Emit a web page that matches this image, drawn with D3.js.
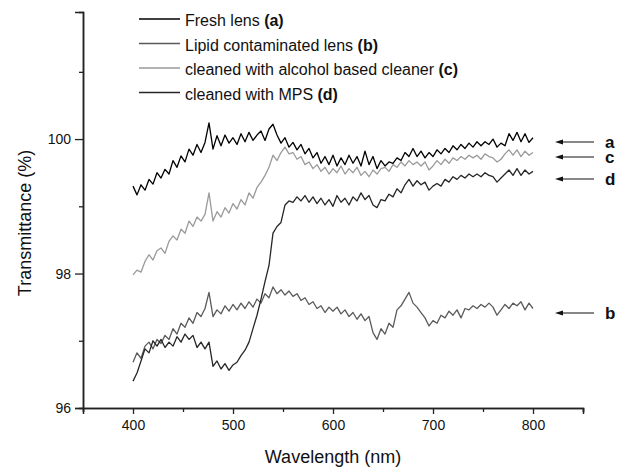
<!DOCTYPE html>
<html>
<head>
<meta charset="utf-8">
<script src="https://cdn.jsdelivr.net/npm/d3@7"></script>
<style>
  body { margin: 0; background: #fff; }
  text { font-family: "Liberation Sans", Arial, sans-serif; }
</style>
</head>
<body>
<svg id="chart" width="624" height="470"></svg>
<script>
// wavelength grid (nm), 4 nm steps from 400 to 800
var wavelengths = d3.range(400, 801, 4);

// transmittance (%)
var fresh = [
  99.30, 99.17, 99.32, 99.24, 99.40, 99.33, 99.50, 99.42, 99.55, 99.48,
  99.68, 99.58, 99.75, 99.66, 99.85, 99.76, 99.92, 99.80, 99.95, 100.24,
  99.85, 100.05, 99.90, 100.06, 99.94, 100.02, 99.92, 100.08, 99.96, 100.10,
  99.98, 100.06, 100.12, 99.98, 100.15, 100.22, 100.06, 99.94, 100.02, 99.88,
  99.95, 99.84, 99.92, 99.78, 99.86, 99.72, 99.80, 99.64, 99.74, 99.62,
  99.76, 99.60, 99.72, 99.62, 99.76, 99.64, 99.74, 99.60, 99.82, 99.62,
  99.74, 99.56, 99.68, 99.60, 99.66, 99.64, 99.72, 99.68, 99.80, 99.74,
  99.86, 99.74, 99.82, 99.72, 99.80, 99.74, 99.84, 99.78, 99.86, 99.80,
  99.90, 99.84, 99.92, 99.86, 99.94, 99.88, 99.96, 99.90, 99.96, 99.92,
  100.00, 99.88, 99.94, 99.90, 100.08, 99.98, 100.10, 99.96, 100.08, 99.95,
  100.02
];
var lipid = [
  96.68, 96.82, 96.74, 96.92, 96.98, 96.88, 97.02, 96.96, 97.08, 97.02,
  97.18, 97.10, 97.26, 97.20, 97.34, 97.26, 97.42, 97.36, 97.48, 97.72,
  97.36, 97.46, 97.40, 97.52, 97.44, 97.54, 97.46, 97.56, 97.48, 97.58,
  97.50, 97.62, 97.56, 97.70, 97.64, 97.80, 97.70, 97.76, 97.68, 97.74,
  97.66, 97.70, 97.60, 97.64, 97.54, 97.58, 97.48, 97.52, 97.42, 97.50,
  97.44, 97.50, 97.40, 97.46, 97.36, 97.42, 97.32, 97.40, 97.30, 97.36,
  97.12, 97.02, 97.18, 97.10, 97.26, 97.20, 97.46, 97.52, 97.62, 97.72,
  97.56, 97.50, 97.42, 97.34, 97.22, 97.30, 97.26, 97.38, 97.34, 97.44,
  97.38, 97.46, 97.34, 97.48, 97.46, 97.52, 97.48, 97.54, 97.50, 97.56,
  97.50, 97.38, 97.46, 97.54, 97.48, 97.56, 97.52, 97.58, 97.46, 97.56,
  97.48
];
var alcohol = [
  97.98, 98.05, 98.02, 98.18, 98.28, 98.20, 98.34, 98.38, 98.30, 98.48,
  98.56, 98.50, 98.66, 98.60, 98.78, 98.70, 98.84, 98.78, 98.88, 99.20,
  98.78, 98.92, 98.84, 98.98, 98.90, 99.04, 98.96, 99.10, 99.02, 99.20,
  99.12, 99.28, 99.36, 99.46, 99.58, 99.76, 99.68, 99.80, 99.88, 99.78,
  99.80, 99.70, 99.74, 99.62, 99.66, 99.56, 99.62, 99.52, 99.58, 99.48,
  99.56, 99.50, 99.60, 99.48, 99.56, 99.50, 99.58, 99.46, 99.52, 99.44,
  99.54, 99.48, 99.56, 99.58, 99.52, 99.62, 99.58, 99.66, 99.60, 99.68,
  99.62, 99.66, 99.60, 99.66, 99.54, 99.60, 99.68, 99.62, 99.70, 99.64,
  99.72, 99.68, 99.74, 99.70, 99.76, 99.72, 99.76, 99.70, 99.78, 99.74,
  99.72, 99.66, 99.70, 99.78, 99.84, 99.76, 99.84, 99.74, 99.82, 99.76,
  99.80
];
var mps = [
  96.40, 96.52, 96.70, 96.88, 96.82, 97.00, 96.92, 97.02, 96.90, 96.98,
  96.92, 97.06, 96.98, 97.10, 97.02, 97.08, 96.90, 96.98, 96.88, 96.98,
  96.62, 96.70, 96.58, 96.66, 96.56, 96.64, 96.68, 96.78, 96.86, 96.98,
  97.18, 97.38, 97.62, 97.88, 98.12, 98.60, 98.70, 98.76, 99.02, 99.08,
  99.06, 99.14, 99.08, 99.16, 99.06, 99.14, 99.04, 99.12, 99.02, 99.10,
  99.00, 99.16, 99.06, 99.12, 99.02, 99.14, 99.08, 99.20, 99.10, 99.16,
  99.02, 98.98, 99.10, 99.08, 99.18, 99.14, 99.26, 99.20, 99.32, 99.40,
  99.30, 99.38, 99.32, 99.36, 99.24, 99.30, 99.34, 99.30, 99.40, 99.36,
  99.44, 99.40, 99.46, 99.42, 99.48, 99.44, 99.48, 99.44, 99.50, 99.46,
  99.44, 99.36, 99.42, 99.48, 99.54, 99.46, 99.56, 99.46, 99.54, 99.48,
  99.52
];

var seriesNames = ["Fresh lens ", "Lipid contaminated lens ", "cleaned with alcohol based cleaner ", "cleaned with MPS "];
var seriesTags = ["a", "b", "c", "d"];
var seriesColors = ["#000000", "#5a5a5a", "#9a9a9a", "#262626"];
var seriesValues = [fresh, lipid, alcohol, mps];

var xMajor = [400, 500, 600, 700, 800];
var xMinor = [350, 450, 550, 650, 750, 850];
var yMajor = [96, 98, 100];
var yMinor = [97, 99, 101];

var svg = d3.select("#chart");
var pad_left = 83, pad_right = 583, pad_top = 12, pad_bottom = 408;

var xScale = d3.scaleLinear().domain([350, 850]).range([pad_left, pad_right]);
var yScale = d3.scaleLinear().domain([96, 101.89]).range([pad_bottom, pad_top]);

// curves, drawn so that a sits on top
var line = d3.line()
    .x(function(d) { return xScale(d.x); })
    .y(function(d) { return yScale(d.y); });

[1, 3, 2, 0].forEach(function(i) {
    var pts = wavelengths.map(function(w, k) { return {x: w, y: seriesValues[i][k]}; });
    svg.append("path")
        .datum(pts)
        .attr("fill", "none")
        .attr("stroke", seriesColors[i])
        .attr("stroke-width", 1.3)
        .attr("stroke-linejoin", "round")
        .attr("d", line);
});

//X axis
var xAxis = d3.axisBottom(xScale).tickValues(xMajor).tickSize(6).tickPadding(6).tickFormat(d3.format("d"));
var gx = svg.append("g")
    .attr("class", "x axis")
    .attr("transform", "translate(0," + pad_bottom + ")")
    .call(xAxis);
gx.append("g").call(d3.axisBottom(xScale).tickValues(xMinor).tickSize(4).tickFormat(""));

//Y axis
var yAxis = d3.axisLeft(yScale).tickValues(yMajor).tickSize(8).tickPadding(4).tickFormat(d3.format("d"));
var gy = svg.append("g")
    .attr("class", "y axis")
    .attr("transform", "translate(" + pad_left + ",0)")
    .call(yAxis);
gy.append("g").call(d3.axisLeft(yScale).tickValues(yMinor).tickSize(4).tickFormat(""));

svg.selectAll(".axis g g path.domain").remove();
svg.selectAll(".axis path.domain").attr("stroke-width", 1.5).attr("stroke", "#222");
svg.selectAll(".axis line").attr("stroke-width", 1.3).attr("stroke", "#222");
svg.selectAll(".axis text").attr("font-size", "14px").attr("fill", "#111")
    .attr("font-family", "'Liberation Sans', Arial, sans-serif");

svg.append("text")
    .attr("text-anchor", "middle")
    .attr("x", 333)
    .attr("y", 463)
    .attr("font-size", "18px")
    .attr("fill", "#111")
    .text("Wavelength (nm)");

svg.append("text")
    .attr("text-anchor", "middle")
    .attr("transform", "translate(31,223) rotate(-90)")
    .attr("font-size", "18px")
    .attr("fill", "#111")
    .text("Transmittance (%)");

// legend
var legend = svg.append("g");
seriesNames.forEach(function(name, i) {
    var yy = 19 + i * 24.5;
    legend.append("line")
        .attr("x1", 139).attr("x2", 180)
        .attr("y1", yy).attr("y2", yy)
        .attr("stroke", seriesColors[i])
        .attr("stroke-width", 1.3);
    var t = legend.append("text")
        .attr("x", 185)
        .attr("y", yy + 7)
        .attr("font-size", "16px")
        .attr("fill", "#111");
    t.append("tspan").text(name);
    t.append("tspan").attr("font-weight", "bold").text("(" + seriesTags[i] + ")");
});

// arrows pointing at curve ends
var arrowTags = ["a", "c", "d", "b"];
var arrowY = [142, 157, 179, 313];
arrowTags.forEach(function(tag, i) {
    var yy = arrowY[i];
    svg.append("line")
        .attr("x1", 560).attr("x2", 594)
        .attr("y1", yy).attr("y2", yy)
        .attr("stroke", "#111").attr("stroke-width", 1.2);
    svg.append("path")
        .attr("d", "M555," + yy + "L563," + (yy - 2.5) + "L563," + (yy + 2.5) + "Z")
        .attr("fill", "#111");
    svg.append("text")
        .attr("x", 605)
        .attr("y", yy + 6)
        .attr("font-size", "17px")
        .attr("font-weight", "bold")
        .attr("fill", "#111")
        .text(tag);
});
</script>
</body>
</html>
